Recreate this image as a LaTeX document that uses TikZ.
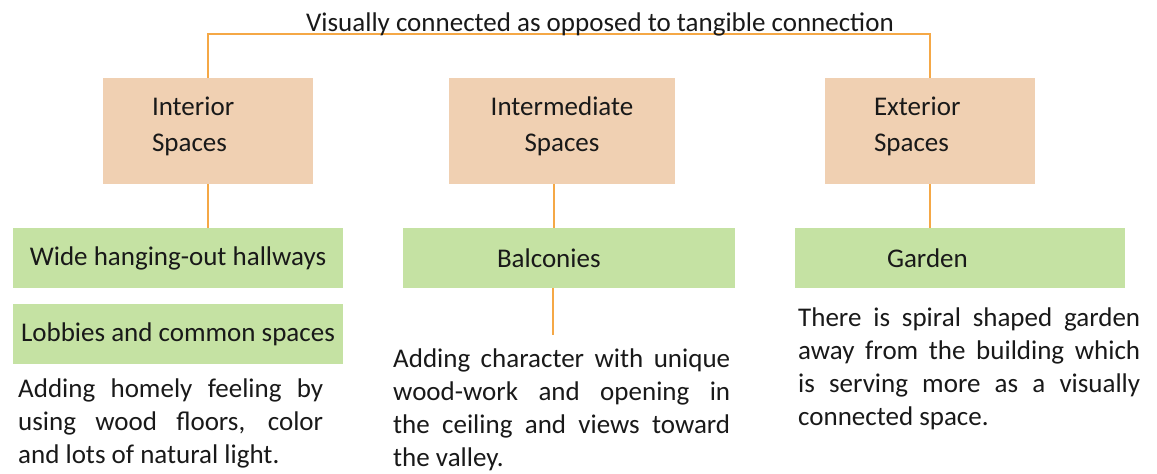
\documentclass[tikz,border=0pt]{standalone}
\usepackage{fontspec}
\setmainfont{Carlito}
\usetikzlibrary{backgrounds}
\definecolor{peach}{RGB}{240,208,178}
\definecolor{leafgreen}{RGB}{197,226,163}
\definecolor{linkorange}{RGB}{245,168,70}
\definecolor{ink}{RGB}{25,25,25}
\tolerance=10000
\hbadness=10000

\begin{document}
\begin{tikzpicture}[x=1pt,y=-1pt,text=ink]
\tikzset{zone/.style={fill=peach,minimum width=210pt,minimum height=106pt,inner sep=0pt,
    font=\fontsize{27}{36}\selectfont,execute at end node={\rule[-14pt]{0pt}{0pt}}},
  leaf/.style={fill=leafgreen,minimum width=330pt,minimum height=60pt,inner sep=0pt,
    font=\fontsize{27}{33}\selectfont},
  note/.style={anchor=north west,inner sep=0pt,align=justify,
    font=\fontsize{27}{33}\selectfont},
  link/.style={draw=linkorange,line width=2pt}}
\useasboundingbox (0,0) rectangle (1157,474);
\node[font=\fontsize{27}{33}\selectfont,anchor=base,inner sep=0pt] (title) at (600,31)
  {Visually connected as opposed to tangible connection};
\node[zone,text width=112pt,align=left] (interior) at (208,131) {Interior\\Spaces};
\node[zone,minimum width=226pt,align=center] (inter) at (562,131) {Intermediate\\Spaces};
\node[zone,text width=112pt,align=left] (exterior) at (930,131) {Exterior\\Spaces};
\node[leaf] (hall) at (178,258) {Wide hanging-out hallways};
\node[leaf] (lobby) at (178,334) {Lobbies and common spaces};
\node[leaf,minimum width=332pt,text width=144pt,align=left] (balc) at (569,258) {Balconies};
\node[leaf,text width=146pt,align=left] (garden) at (960,258) {Garden};
\node[note,text width=305pt] (intnote) at (18,379)
  {Adding homely feeling by\linebreak using wood floors, color\linebreak and lots of natural light.};
\node[note,text width=337pt] (midnote) at (393,349)
  {Adding character with unique\linebreak wood-work and opening in\linebreak the ceiling and views toward\linebreak the valley.};
\node[note,text width=342pt] (extnote) at (798,308)
  {There is spiral shaped garden\linebreak away from the building which\linebreak is serving more as a visually\linebreak connected space.};
\coordinate (baltip) at (553,335);
\begin{scope}[on background layer]
\draw[link] (interior.north) |- ([yshift=-3pt]title.base) -| (exterior.north);
\draw[link] (interior.south) -- (interior.south |- hall.north);
\draw[link] ([xshift=-8pt]inter.south) -- ([xshift=-8pt]inter.south |- balc.north);
\draw[link] (exterior.south) -- (exterior.south |- garden.north);
\draw[link] (balc.south -| baltip) -- (baltip);
\end{scope}
\end{tikzpicture}
\end{document}
